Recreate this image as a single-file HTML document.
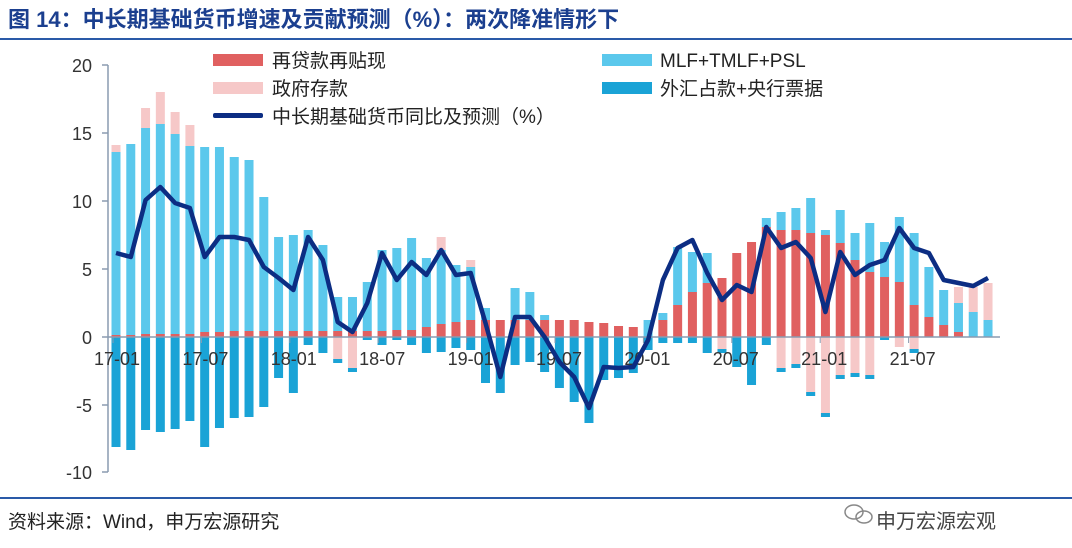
<!DOCTYPE html>
<html><head><meta charset="utf-8">
<style>
body{margin:0;background:#fff;width:1072px;height:548px;overflow:hidden;font-family:"Liberation Sans","Noto Sans CJK SC",sans-serif;}
</style></head><body>
<svg id="s" width="1072" height="548" xmlns="http://www.w3.org/2000/svg" style="position:absolute;left:0;top:0">
<text x="8" y="27" font-size="22" font-weight="bold" fill="#1b3f8f" font-family="Liberation Sans,Noto Sans CJK SC,sans-serif">图 14：中长期基础货币增速及贡献预测（%）：两次降准情形下</text>
<rect x="0" y="38" width="1072" height="2" fill="#2a5aa8"/>
<rect x="0" y="497" width="1072" height="2" fill="#2a5aa8"/>
<text x="8" y="528" font-size="19" fill="#222" font-family="Liberation Sans,Noto Sans CJK SC,sans-serif">资料来源：Wind，申万宏源研究</text>
<g transform="translate(846,512)"><ellipse cx="8" cy="0" rx="9" ry="7" fill="none" stroke="#888" stroke-width="1.5"/><ellipse cx="18" cy="5" rx="8" ry="6" fill="none" stroke="#888" stroke-width="1.5"/></g>
<text x="876" y="528" font-size="20" fill="#444" font-family="Liberation Sans,Noto Sans CJK SC,sans-serif">申万宏源宏观</text>
<g font-size="19" fill="#222" font-family="Liberation Sans,Noto Sans CJK SC,sans-serif">
<rect x="213" y="54" width="50" height="12" fill="#e06060"/><text x="272" y="67">再贷款再贴现</text>
<rect x="602" y="54" width="50" height="12" fill="#5bc8ec"/><text x="660" y="67">MLF+TMLF+PSL</text>
<rect x="213" y="82" width="50" height="12" fill="#f6c8c8"/><text x="272" y="95">政府存款</text>
<rect x="602" y="82" width="50" height="12" fill="#1aa3d6"/><text x="660" y="95">外汇占款+央行票据</text>
<rect x="213" y="113" width="50" height="5" rx="2" fill="#0c2d83"/><text x="272" y="123">中长期基础货币同比及预测（%）</text>
</g>
<g font-size="18" fill="#333" text-anchor="end" font-family="Liberation Sans,sans-serif">
<text x="92" y="72">20</text><text x="92" y="140">15</text><text x="92" y="208">10</text><text x="92" y="276">5</text><text x="92" y="344">0</text><text x="92" y="412">-5</text><text x="92" y="479">-10</text>
</g>
<line x1="108" y1="65" x2="108" y2="472" stroke="#8a9bb0" stroke-width="1.5"/>
<g stroke="#8a9bb0" stroke-width="1.5"><line x1="102" y1="65" x2="108" y2="65"/><line x1="102" y1="133" x2="108" y2="133"/><line x1="102" y1="201" x2="108" y2="201"/><line x1="102" y1="269" x2="108" y2="269"/><line x1="102" y1="337" x2="108" y2="337"/><line x1="102" y1="405" x2="108" y2="405"/><line x1="102" y1="472" x2="108" y2="472"/></g>
<g id="bars"></g>
<line x1="108" y1="337" x2="1000" y2="337" stroke="#8a9bb0" stroke-width="1.5"/>
<g id="xl" font-size="18" fill="#333" text-anchor="middle" font-family="Liberation Sans,sans-serif"></g>
<polyline id="ln" fill="none" stroke="#0c2d83" stroke-width="4.5" stroke-linejoin="round"/>
</svg>
<script>
var d=[[335,152,145,447,'b',253],[335,144,144,450,'b',257],[334,128,108,430,'b',200],[334,124,92,432,'b',187],[334,134,112,429,'b',203],[334,146,125,421,'b',208],[332,147,147,447,'b',257],[332,147,147,428,'b',237],[331,157,157,418,'b',237],[331,160,160,417,'b',240],[331,197,197,407,'b',267],[331,237,237,378,'b',278],[331,235,235,393,'b',290],[331,230,230,345,'b',237],[331,245,245,353,'b',260],[331,297,297,363,'p',322],[331,297,297,372,'p',332],[331,282,282,340,'b',303],[331,250,250,345,'b',253],[330,248,248,340,'b',280],[330,238,238,345,'b',262],[327,258,258,353,'b',275],[324,250,237,352,'b',250],[322,265,265,348,'b',275],[320,267,260,350,'b',273],[320,308,308,383,'b',323],[320,320,320,393,'b',377],[320,288,288,365,'b',317],[320,292,292,362,'b',317],[320,315,315,372,'b',337],[320,320,320,388,'b',362],[320,320,320,402,'b',377],[322,322,322,423,'b',408],[323,323,323,380,'b',367],[326,326,326,378,'b',368],[327,327,327,373,'b',367],[337,320,320,350,'b',340],[320,313,313,343,'b',280],[305,247,247,343,'b',248],[292,252,252,343,'b',240],[283,253,253,353,'b',273],[278,278,278,353,'p',300],[253,253,253,367,'b',285],[242,242,242,385,'b',292],[227,218,218,345,'b',227],[230,212,212,372,'p',248],[230,208,208,368,'p',242],[233,198,198,396,'p',258],[235,230,230,417,'p',312],[243,210,210,379,'p',252],[260,233,233,377,'p',275],[272,223,223,379,'p',265],[277,242,242,340,'b',260],[282,217,217,347,'p',228],[305,233,233,353,'p',248],[317,267,267,337,'b',253],[325,290,290,337,'b',280],[332,303,287,337,'b',283],[337,312,287,337,'b',286],[337,320,283,337,'b',278]];
var NS="http://www.w3.org/2000/svg",g=document.getElementById('bars'),pts=[];
function r(x,y1,y2,c){if(y2-y1<0.5)return;var e=document.createElementNS(NS,'rect');e.setAttribute('x',x-4.5);e.setAttribute('y',y1);e.setAttribute('width',9);e.setAttribute('height',y2-y1);e.setAttribute('fill',c);g.appendChild(e);}
d.forEach(function(b,i){var x=116+i*14.78;
r(x,b[2],b[1],'#f6c8c8');r(x,b[1],b[0],'#5bc8ec');r(x,b[0],337,'#e06060');
if(b[4]=='b')r(x,337,b[3],'#1aa3d6');else{r(x,337,b[3],'#f6c8c8');if(b[3]>350)r(x,b[3]-4,b[3],'#1aa3d6');}
pts.push(x.toFixed(1)+','+b[5]);});
document.getElementById('ln').setAttribute('points',pts.join(' '));
var L=['17-01','17-07','18-01','18-07','19-01','19-07','20-01','20-07','21-01','21-07'],xl=document.getElementById('xl');
L.forEach(function(t,i){var x=117+i*88.4;var e=document.createElementNS(NS,'text');e.setAttribute('x',x);e.setAttribute('y',365);e.textContent=t;xl.appendChild(e);var k=document.createElementNS(NS,'line');k.setAttribute('x1',x-4);k.setAttribute('x2',x-4);k.setAttribute('y1',337);k.setAttribute('y2',343);k.setAttribute('stroke','#8a9bb0');xl.appendChild(k);});
</script>
</body></html>
